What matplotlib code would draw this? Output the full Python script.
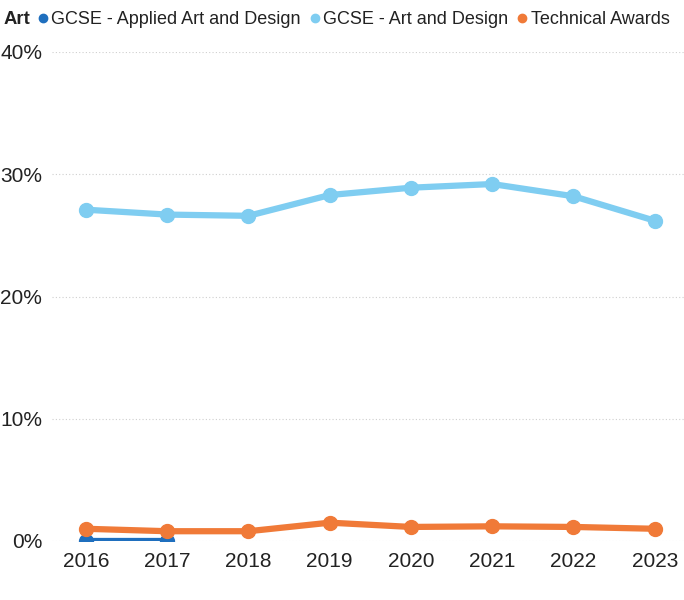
import numpy as np
import matplotlib.pyplot as plt
from matplotlib.lines import Line2D

plt.rcParams['font.family'] = ['Liberation Sans', 'DejaVu Sans']

years = [2016, 2017, 2018, 2019, 2020, 2021, 2022, 2023]
applied_years = [2016, 2017]
applied = [0.0, 0.0]
art_design = [27.1, 26.7, 26.6, 28.3, 28.9, 29.2, 28.2, 26.2]
technical = [1.0, 0.8, 0.8, 1.5, 1.15, 1.2, 1.15, 1.0]

c_applied = '#1f6fbe'
c_art = '#7fcdf1'
c_tech = '#f07a38'

fig = plt.figure(figsize=(6.84, 6.0), dpi=100)
ax = fig.add_axes([52/684, 1 - 541/600, 1 - 52/684, (541 - 52)/600])

ax.plot(applied_years, applied, '-o', color=c_applied, lw=4.5, ms=10, zorder=2)
ax.plot(years, art_design, '-o', color=c_art, lw=4.5, ms=10, zorder=3)
ax.plot(years, technical, '-o', color=c_tech, lw=4.5, ms=10, zorder=4)

ax.set_xlim(2016 - 0.418, 2023 + 0.36)
ax.set_ylim(0, 40)
ax.set_yticks([0, 10, 20, 30, 40])
ax.set_yticklabels(['0%', '10%', '20%', '30%', '40%'])
ax.set_xticks(years)
ax.tick_params(axis='both', length=0, labelsize=15, colors='#222222')
ax.tick_params(axis='x', pad=8)
ax.tick_params(axis='y', pad=7)
for s in ax.spines.values():
    s.set_visible(False)
ax.grid(axis='y', color='#cfcfcf', linestyle=(0, (1, 2)), lw=0.8)
ax.set_axisbelow(True)

fig.text(4/684, 1 - 20/600, 'Art', fontsize=13.3, fontweight='bold', va='center', color='#222222')
handles = [Line2D([], [], marker='o', ls='', color=c, ms=6) for c in (c_applied, c_art, c_tech)]
fig.legend(handles, ['GCSE - Applied Art and Design', 'GCSE - Art and Design', 'Technical Awards'],
           loc='center left', bbox_to_anchor=(34/684, 1 - 20/600), ncol=3, frameon=False,
           fontsize=13, handletextpad=0.0, columnspacing=0.3,
           handlelength=0.95, labelcolor='#222222', borderpad=0, borderaxespad=0)

fig.savefig('out.png', dpi=100)
